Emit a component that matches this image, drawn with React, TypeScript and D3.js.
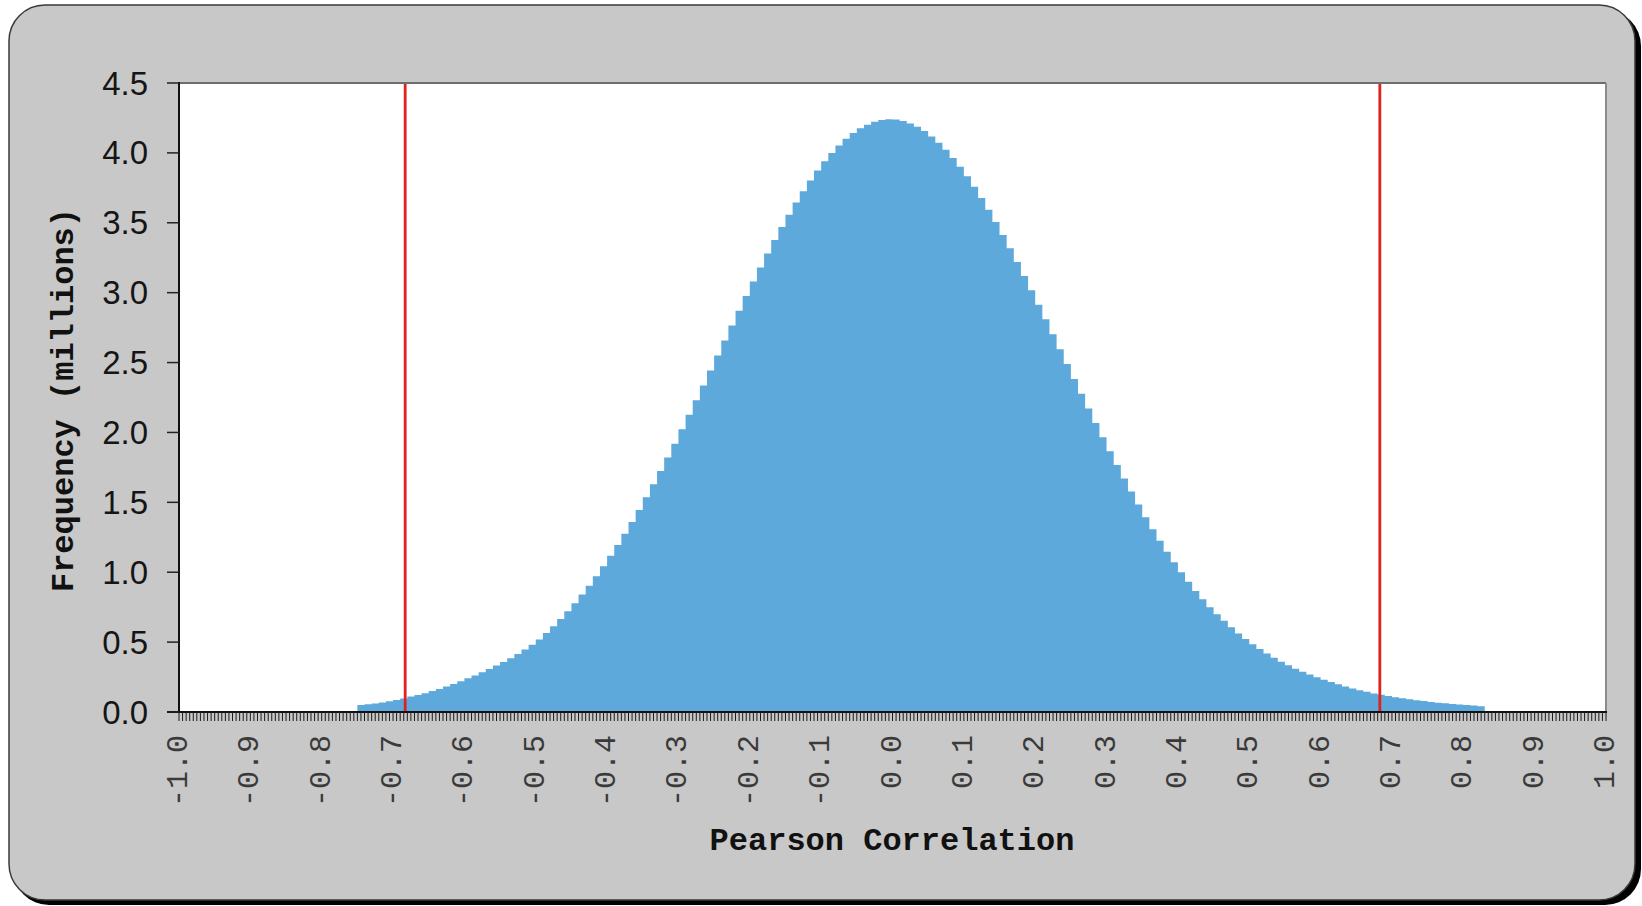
import React from "react";
import * as d3 from "d3";

// Histogram of Pearson correlation coefficients, bins of width 0.01
const BIN_START = -0.75;
const BIN_WIDTH = 0.01;

// Frequency per bin, in millions, starting at r = -0.75
const frequency: number[] = [
  // -0.75 .. -0.51
  0.05, 0.055, 0.06, 0.068, 0.077, 0.086, 0.096, 0.11, 0.122, 0.135,
  0.15, 0.165, 0.182, 0.2, 0.22, 0.241, 0.262, 0.284, 0.307, 0.332,
  0.357, 0.385, 0.415, 0.447, 0.482,
  // -0.50 .. -0.01
  0.519, 0.565, 0.613, 0.665, 0.72, 0.778, 0.84, 0.904, 0.972, 1.043,
  1.117, 1.195, 1.276, 1.359, 1.446, 1.536, 1.629, 1.724, 1.821, 1.92,
  2.022, 2.126, 2.23, 2.336, 2.444, 2.551, 2.658, 2.765, 2.871, 2.976,
  3.079, 3.18, 3.28, 3.376, 3.47, 3.558, 3.645, 3.726, 3.803, 3.874,
  3.94, 4.0, 4.053, 4.101, 4.142, 4.176, 4.202, 4.222, 4.235, 4.24,
  // 0.00 .. 0.43
  4.238, 4.228, 4.211, 4.187, 4.156, 4.118, 4.073, 4.022, 3.964, 3.901,
  3.832, 3.757, 3.677, 3.593, 3.505, 3.413, 3.318, 3.22, 3.119, 3.017,
  2.914, 2.809, 2.703, 2.596, 2.49, 2.383, 2.277, 2.172, 2.068, 1.966,
  1.865, 1.767, 1.671, 1.577, 1.485, 1.393, 1.308, 1.226, 1.147, 1.072,
  1.0, 0.931, 0.866, 0.806,
  // 0.44 .. 0.82
  0.75, 0.7, 0.652, 0.606, 0.562, 0.522, 0.485, 0.45, 0.418, 0.388,
  0.36, 0.334, 0.31, 0.288, 0.268, 0.249, 0.231, 0.214, 0.198, 0.183,
  0.169, 0.156, 0.144, 0.133, 0.123, 0.114, 0.106, 0.098, 0.091, 0.084,
  0.078, 0.072, 0.067, 0.062, 0.058, 0.054, 0.05, 0.046, 0.042,
];

const yTicks = [0, 0.5, 1.0, 1.5, 2.0, 2.5, 3.0, 3.5, 4.0, 4.5];
const xLabels = [
  -1.0, -0.9, -0.8, -0.7, -0.6, -0.5, -0.4, -0.3, -0.2, -0.1,
  0.0, 0.1, 0.2, 0.3, 0.4, 0.5, 0.6, 0.7, 0.8, 0.9, 1.0,
];
const criticalR = [-0.683, 0.683];

const W = 1642;
const H = 906;
const PLOT = { left: 179, right: 1606, top: 83, bottom: 712 };

export default function App() {
  const x = d3.scaleLinear().domain([-1, 1]).range([PLOT.left, PLOT.right]);
  const y = d3.scaleLinear().domain([0, 4.5]).range([PLOT.bottom, PLOT.top]);
  const minorTicks = x.ticks(400);

  // one step outline for all bins: edge i carries the value of bin i
  const edges = d3.range(frequency.length + 1).map((i) => ({
    r: BIN_START + i * BIN_WIDTH,
    f: frequency[Math.min(i, frequency.length - 1)],
  }));
  const area = d3
    .area<{ r: number; f: number }>()
    .x((d) => x(d.r))
    .y0(y(0))
    .y1((d) => y(d.f))
    .curve(d3.curveStepAfter);

  const mono = "'Liberation Mono', 'Courier New', monospace";
  const sans = "'Liberation Sans', Arial, sans-serif";

  return (
    <svg
      width={W}
      height={H}
      viewBox={`0 0 ${W} ${H}`}
      style={{ position: "absolute", left: 0, top: 0, display: "block" }}
    >
      <rect x={0} y={0} width={W} height={H} fill="#ffffff" />
      {/* frame with drop shadow */}
      <rect x={13} y={10} width={1628} height={895} rx={36} ry={36} fill="#000" />
      <rect
        x={9}
        y={5}
        width={1626}
        height={895}
        rx={36}
        ry={36}
        fill="#c8c8c8"
        stroke="#3a3a3a"
        strokeWidth={1.5}
      />

      {/* plot area */}
      <rect
        x={PLOT.left}
        y={PLOT.top}
        width={PLOT.right - PLOT.left}
        height={PLOT.bottom - PLOT.top}
        fill="#ffffff"
      />

      {/* histogram */}
      <path d={area(edges) ?? ""} fill="#5ea9db" />

      {/* critical values */}
      {criticalR.map((r) => (
        <line
          key={r}
          x1={x(r)}
          x2={x(r)}
          y1={PLOT.top}
          y2={PLOT.bottom}
          stroke="#e0211d"
          strokeWidth={2.8}
        />
      ))}

      {/* plot borders */}
      <line x1={PLOT.left} x2={PLOT.right} y1={PLOT.top} y2={PLOT.top} stroke="#6e6e6e" strokeWidth={2} />
      <line x1={PLOT.right} x2={PLOT.right} y1={PLOT.top} y2={PLOT.bottom} stroke="#8c8c8c" strokeWidth={2} />
      <line x1={PLOT.left} x2={PLOT.left} y1={PLOT.top - 1} y2={PLOT.bottom} stroke="#111" strokeWidth={2} />
      <line x1={PLOT.left - 12} x2={PLOT.right + 1} y1={PLOT.bottom} y2={PLOT.bottom} stroke="#111" strokeWidth={2} />

      {/* y axis */}
      {yTicks.map((t) => (
        <g key={t}>
          <line
            x1={PLOT.left - 12}
            x2={PLOT.left}
            y1={y(t)}
            y2={y(t)}
            stroke="#222"
            strokeWidth={1.5}
          />
          <text
            x={148}
            y={y(t)}
            textAnchor="end"
            dominantBaseline="central"
            fontFamily={sans}
            fontSize={33}
            fill="#151515"
          >
            {t.toFixed(1)}
          </text>
        </g>
      ))}

      {/* x axis minor ticks */}
      <g stroke="#1a1a1a" strokeWidth={1}>
        {minorTicks.map((t, i) => (
          <line key={i} x1={x(t)} x2={x(t)} y1={PLOT.bottom} y2={PLOT.bottom + 9} />
        ))}
      </g>

      {/* x axis labels */}
      {xLabels.map((v) => (
        <text
          key={v}
          transform={`translate(${x(v)},735) rotate(-90)`}
          textAnchor="end"
          dominantBaseline="central"
          fontFamily={mono}
          fontSize={30}
          fill="#3a3a3a"
        >
          {v.toFixed(1)}
        </text>
      ))}

      {/* axis titles */}
      <text
        x={892}
        y={841}
        textAnchor="middle"
        dominantBaseline="central"
        fontFamily={mono}
        fontWeight="bold"
        fontSize={32}
        fill="#111"
      >
        Pearson Correlation
      </text>
      <text
        transform="translate(64,400) rotate(-90)"
        textAnchor="middle"
        dominantBaseline="central"
        fontFamily={mono}
        fontWeight="bold"
        fontSize={32}
        fill="#111"
      >
        Frequency (millions)
      </text>
    </svg>
  );
}
